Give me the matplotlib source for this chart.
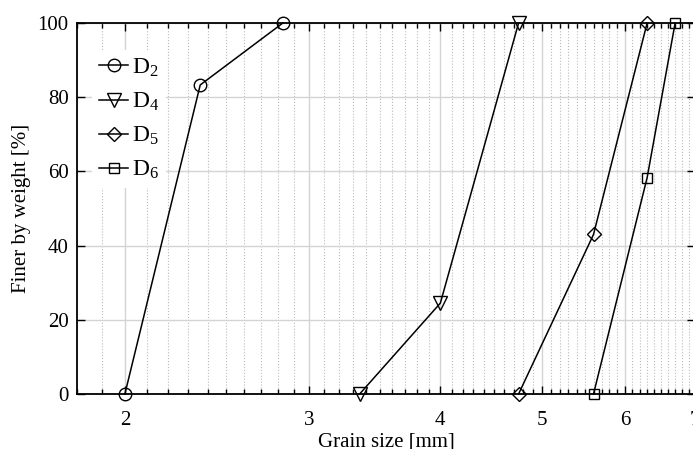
import numpy as np
import matplotlib
matplotlib.use("Agg")
import matplotlib.pyplot as plt
from matplotlib.ticker import FixedLocator, NullFormatter, FixedFormatter

plt.rcParams['font.family'] = ['Liberation Serif', 'DejaVu Serif']
plt.rcParams['mathtext.fontset'] = 'custom'
plt.rcParams['mathtext.rm'] = 'Liberation Serif'
plt.rcParams['mathtext.it'] = 'Liberation Serif:italic'

# sieve curves: grain size [mm] and percent finer
d2_size = [2.0, 2.36, 2.83]
d2_finer = [0, 83.3, 100]
d4_size = [3.35, 4.0, 4.75]
d4_finer = [0, 24.5, 100]
d5_size = [4.75, 5.6, 6.3]
d5_finer = [0, 43, 100]
d6_size = [5.6, 6.3, 6.7]
d6_finer = [0, 58.3, 100]

series = [
    (d2_size, d2_finer, 'o', 9, r'D$_{\mathregular{2}}$'),
    (d4_size, d4_finer, 'v', 10, r'D$_{\mathregular{4}}$'),
    (d5_size, d5_finer, 'D', 7, r'D$_{\mathregular{5}}$'),
    (d6_size, d6_finer, 's', 7, r'D$_{\mathregular{6}}$'),
]

x_major = [2, 3, 4, 5, 6, 7]
y_major = [0, 20, 40, 60, 80, 100]

fig = plt.figure(figsize=(6.93, 4.49), dpi=100)
ax = fig.add_axes([0.111, 0.1225, 0.892, 0.8263])

for xs, ys, mk, ms, lab in series:
    ax.plot(xs, ys, color='black', lw=1.1, marker=mk, ms=ms,
            mfc='none', mec='black', mew=1.0, label=lab, clip_on=False, zorder=5)

ax.set_xscale('log')
ax.set_xlim(1.8, 7)
ax.set_ylim(0, 100)

minor = [v / 10 for v in range(18, 71) if v % 10 != 0]
ax.xaxis.set_major_locator(FixedLocator(x_major))
ax.xaxis.set_major_formatter(FixedFormatter([str(v) for v in x_major]))
ax.xaxis.set_minor_locator(FixedLocator(minor))
ax.xaxis.set_minor_formatter(NullFormatter())
ax.set_yticks(y_major)

ax.grid(True, which='major', color='#d4d4d4', lw=1.0, ls='-')
ax.grid(True, which='minor', axis='x', color='#bbbbbb', lw=0.8, ls=':')
ax.set_axisbelow(True)

ax.tick_params(which='both', direction='in', top=True, right=True,
               labelsize=15, width=1.0)
ax.tick_params(which='major', length=6)
ax.tick_params(which='minor', length=3.5)
ax.tick_params(axis='x', which='major', pad=12)
ax.tick_params(axis='y', which='major', pad=6)
for s in ax.spines.values():
    s.set_linewidth(1.3)

ax.set_xlabel('Grain size [mm]', fontsize=15, labelpad=2)
ax.set_ylabel('Finer by weight [%]', fontsize=15, labelpad=5)

leg = ax.legend(loc='upper left', bbox_to_anchor=(0.005, 0.96), frameon=True,
                fontsize=17, handlelength=1.25, handletextpad=0.15,
                labelspacing=0.5, borderpad=0.3, markerscale=1.0)
leg.get_frame().set_edgecolor('none')
leg.get_frame().set_facecolor('white')
leg.get_frame().set_alpha(1.0)

fig.savefig('out.png', dpi=100)
